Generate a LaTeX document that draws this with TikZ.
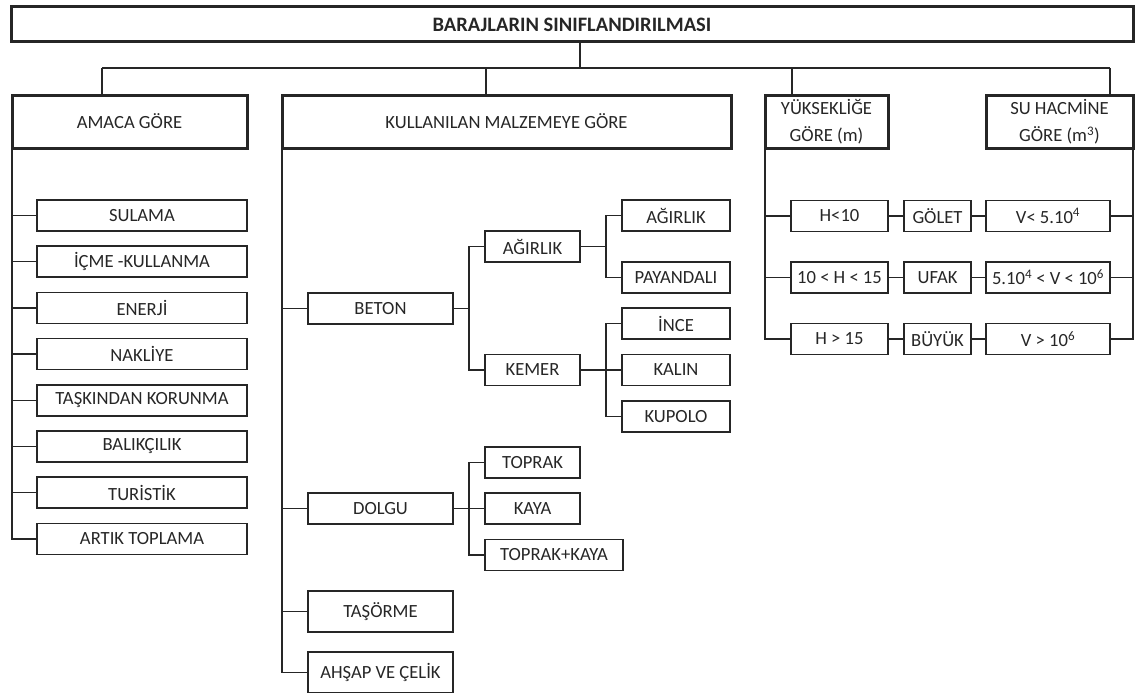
\documentclass[tikz,border=0pt]{standalone}
\usepackage{fontspec}
\setmainfont{Carlito}
\usetikzlibrary{positioning}

\begin{document}
\begin{tikzpicture}[x=1pt,y=-1pt,color=black!85,line width=1.4pt,
    kutu/.style={draw, line width=1.5pt, inner sep=0pt, outer sep=0pt,
        minimum height=31pt, align=center, font=\fontsize{18.6}{27}\selectfont},
    ana/.style={kutu, line width=3pt, minimum height=53pt}]

        \useasboundingbox (0,0) rectangle (1135,693);
        \clip (0,0) rectangle (1135,693);

        % ust seviye
        \node[ana, minimum width=1122pt, minimum height=35pt,
            font=\fontsize{20.5}{24}\bfseries\selectfont] at (572,24.5) (T) {BARAJLARIN SINIFLANDIRILMASI};
        \node[ana, minimum width=235pt] at (129.5,121.5) (A) {AMACA GÖRE};
        \node[ana, minimum width=449pt] at (506.5,121.5) (M) {KULLANILAN MALZEMEYE GÖRE};
        \node[ana, minimum width=123pt] at (826.5,121.5) (Y) {YÜKSEKLİĞE\\GÖRE (m)};
        \node[ana, minimum width=147pt] at (1059.5,121.5) (S) {SU HACMİNE\\GÖRE (m\textsuperscript{3})};

        \coordinate (bus) at (580,68);
        \coordinate (dA) at (102,68);
        \coordinate (dM) at (486,68);
        \coordinate (dY) at (792,68);
        \coordinate (dS) at (1110,68);
        \draw (T.south -| bus) -- (bus);
        \draw (dA) -- (dS);
        \foreach \d/\n in {dA/A,dM/M,dY/Y,dS/S}
            \draw (\d) -- (\d |- \n.north);

        % amaca gore
        \foreach \t [count=\i from 0] in {SULAMA,İÇME -KULLANMA,ENERJİ,NAKLİYE,
            TAŞKINDAN KORUNMA,BALIKÇILIK,TURİSTİK,ARTIK TOPLAMA} {
            \node[kutu, minimum width=210pt] at (142,215.5+46.2*\i) (a\i) {\t};
            \draw (A.south west) |- (a\i.west);
        }

        % malzemeye gore
        \node[kutu, minimum width=145pt] at (380.5,308.5) (beton) {BETON};
        \node[kutu, minimum width=145pt] at (380.5,508.5) (dolgu) {DOLGU};
        \node[kutu, minimum width=145pt, minimum height=41pt] at (380.5,611.5) (tasorme) {TAŞÖRME};
        \node[kutu, minimum width=145pt, minimum height=41pt] at (380.5,672.5) (ahsap) {AHŞAP VE ÇELİK};
        \foreach \n in {beton,dolgu,tasorme,ahsap}
            \draw (M.south west) |- (\n.west);

        \node[kutu, minimum width=95pt] at (532.5,246.5) (agirlik) {AĞIRLIK};
        \node[kutu, minimum width=95pt] at (532.5,370) (kemer) {KEMER};
        \coordinate (bb) at (469,308.5);
        \draw (beton.east) -- (bb);
        \draw (agirlik.west) -| (bb) |- (kemer.west);

        \node[kutu, minimum width=108pt] at (676,215.5) (agirlik2) {AĞIRLIK};
        \node[kutu, minimum width=108pt] at (676,277.5) (payandali) {PAYANDALI};
        \node[kutu, minimum width=108pt] at (676,323.5) (ince) {İNCE};
        \node[kutu, minimum width=108pt] at (676,370) (kalin) {KALIN};
        \node[kutu, minimum width=108pt] at (676,416.5) (kupolo) {KUPOLO};
        \coordinate (ba) at (606,246.5);
        \coordinate (bk) at (606,370);
        \draw (agirlik.east) -- (ba);
        \draw (kemer.east) -- (bk);
        \foreach \n in {agirlik2,payandali}
            \draw (ba) |- (\n.west);
        \foreach \n in {ince,kalin,kupolo}
            \draw (bk) |- (\n.west);

        \node[kutu, minimum width=95pt] at (532.5,462.5) (toprak) {TOPRAK};
        \node[kutu, minimum width=95pt] at (532.5,508.5) (kaya) {KAYA};
        \node[kutu, minimum width=138pt] at (554,555) (toprakkaya) {TOPRAK+KAYA};
        \coordinate (bd) at (469,508.5);
        \draw (dolgu.east) -- (bd);
        \foreach \n in {toprak,kaya,toprakkaya}
            \draw (bd) |- (\n.west);

        % yukseklik ve hacim
        \foreach \y/\h/\s/\v [count=\i] in {
            216/H<10/GÖLET/V< 5.10\textsuperscript{4},
            277.5/10 < H < 15/UFAK/5.10\textsuperscript{4} < V < 10\textsuperscript{6},
            339/H > 15/BÜYÜK/V > 10\textsuperscript{6}} {
            \node[kutu, minimum width=97pt] at (839.5,\y) (h\i) {\h};
            \node[kutu, minimum width=67pt] at (937.5,\y) (s\i) {\s};
            \node[kutu, minimum width=124pt] at (1048,\y) (v\i) {\v};
            \draw (Y.south west) |- (h\i.west);
            \draw (h\i) -- (s\i);
            \draw (s\i) -- (v\i);
            \draw (S.south east) |- (v\i.east);
        }
    \end{tikzpicture}
\end{document}
